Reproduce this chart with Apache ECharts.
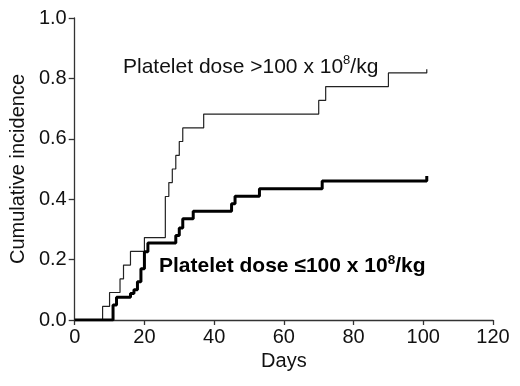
<!DOCTYPE html>
<html>
<head>
<meta charset="utf-8">
<script src="https://cdn.jsdelivr.net/npm/echarts@6/dist/echarts.min.js"></script>
<style>
html, body { margin: 0; padding: 0; background: #fff; }
#container { width: 520px; height: 386px; }
</style>
</head>
<body>
<div id="container"></div>
<script>
// cumulative incidence, step curves
var highDays = [0, 8, 10, 13, 14, 16, 20, 26, 27, 28, 29, 30, 31, 37, 70, 72, 90, 101, 101];
var highInc  = [0, 0.045, 0.091, 0.136, 0.182, 0.227, 0.273, 0.409, 0.455, 0.5, 0.545, 0.591, 0.636, 0.682, 0.727, 0.773, 0.818, 0.818, 0.83];

var lowDays = [0, 11, 12, 16, 17, 18, 19, 20, 21, 29, 30, 31, 34, 45, 46, 53, 71, 101, 101];
var lowInc  = [0, 0.05, 0.075, 0.088, 0.1, 0.127, 0.17, 0.226, 0.255, 0.28, 0.305, 0.335, 0.36, 0.385, 0.41, 0.435, 0.46, 0.46, 0.477];

var xTicks = [0, 20, 40, 60, 80, 100, 120];
var yTicks = [0.0, 0.2, 0.4, 0.6, 0.8, 1.0];

function pairs(xs, ys) {
    var out = [];
    for (var i = 0; i < xs.length; i++) out.push([xs[i], ys[i]]);
    return out;
}

var dom = document.getElementById('container');
var myChart = echarts.init(dom, null, { renderer: 'canvas' });

var font = 'Liberation Sans, Arial, sans-serif';
var axisCol = '#333';

var option = {
    animation: false,
    textStyle: { fontFamily: font },
    grid: { left: 74, right: 27, top: 18, bottom: 66 },
    xAxis: {
        type: 'value',
        min: xTicks[0],
        max: xTicks[xTicks.length - 1],
        interval: 20,
        name: 'Days',
        nameLocation: 'middle',
        nameGap: 31,
        nameTextStyle: { fontSize: 20, color: '#111', fontFamily: font },
        axisLine: { show: true, lineStyle: { color: axisCol, width: 1.3 } },
        axisTick: { show: true, length: 5, lineStyle: { color: axisCol, width: 1.3 } },
        axisLabel: { fontSize: 20, color: '#111', margin: 7, fontFamily: font },
        splitLine: { show: false }
    },
    yAxis: {
        type: 'value',
        min: yTicks[0],
        max: yTicks[yTicks.length - 1],
        interval: 0.2,
        name: 'Cumulative incidence',
        nameLocation: 'middle',
        nameGap: 46,
        nameTextStyle: { fontSize: 20, color: '#111', fontFamily: font },
        axisLine: { show: true, lineStyle: { color: axisCol, width: 1.3 } },
        axisTick: { show: true, length: 6, lineStyle: { color: axisCol, width: 1.3 } },
        axisLabel: {
            fontSize: 20, color: '#111', margin: 8, fontFamily: font,
            formatter: function (v) { return v.toFixed(1); }
        },
        splitLine: { show: false }
    },
    series: [
        {
            name: 'high',
            type: 'line',
            step: 'end',
            data: pairs(highDays, highInc),
            showSymbol: false,
            lineStyle: { color: '#222', width: 1.2 },
            z: 3
        },
        {
            name: 'low',
            type: 'line',
            step: 'end',
            data: pairs(lowDays, lowInc),
            showSymbol: false,
            lineStyle: { color: '#000', width: 3 },
            z: 4
        }
    ],
    graphic: [
        {
            type: 'text',
            left: 123,
            top: 54,
            style: {
                text: '{n|Platelet dose >100 x 10}{s|8}{n|/kg}',
                rich: {
                    n: { fontSize: 21, fill: '#111', fontFamily: font, verticalAlign: 'bottom', lineHeight: 24 },
                    s: { fontSize: 13, fill: '#111', fontFamily: font, verticalAlign: 'top', lineHeight: 24, padding: [0, 0, 5, 0] }
                }
            }
        },
        {
            type: 'text',
            left: 159,
            top: 253,
            style: {
                text: '{n|Platelet dose \u2264100 x 10}{s|8}{n|/kg}',
                rich: {
                    n: { fontSize: 21, fontWeight: 'bold', fill: '#000', fontFamily: font, verticalAlign: 'bottom', lineHeight: 24 },
                    s: { fontSize: 13.5, fontWeight: 'bold', fill: '#000', fontFamily: font, verticalAlign: 'top', lineHeight: 24, padding: [0, 0, 5, 0] }
                }
            }
        }
    ]
};

if (option && typeof option === 'object') {
    myChart.setOption(option);
}
</script>
</body>
</html>
